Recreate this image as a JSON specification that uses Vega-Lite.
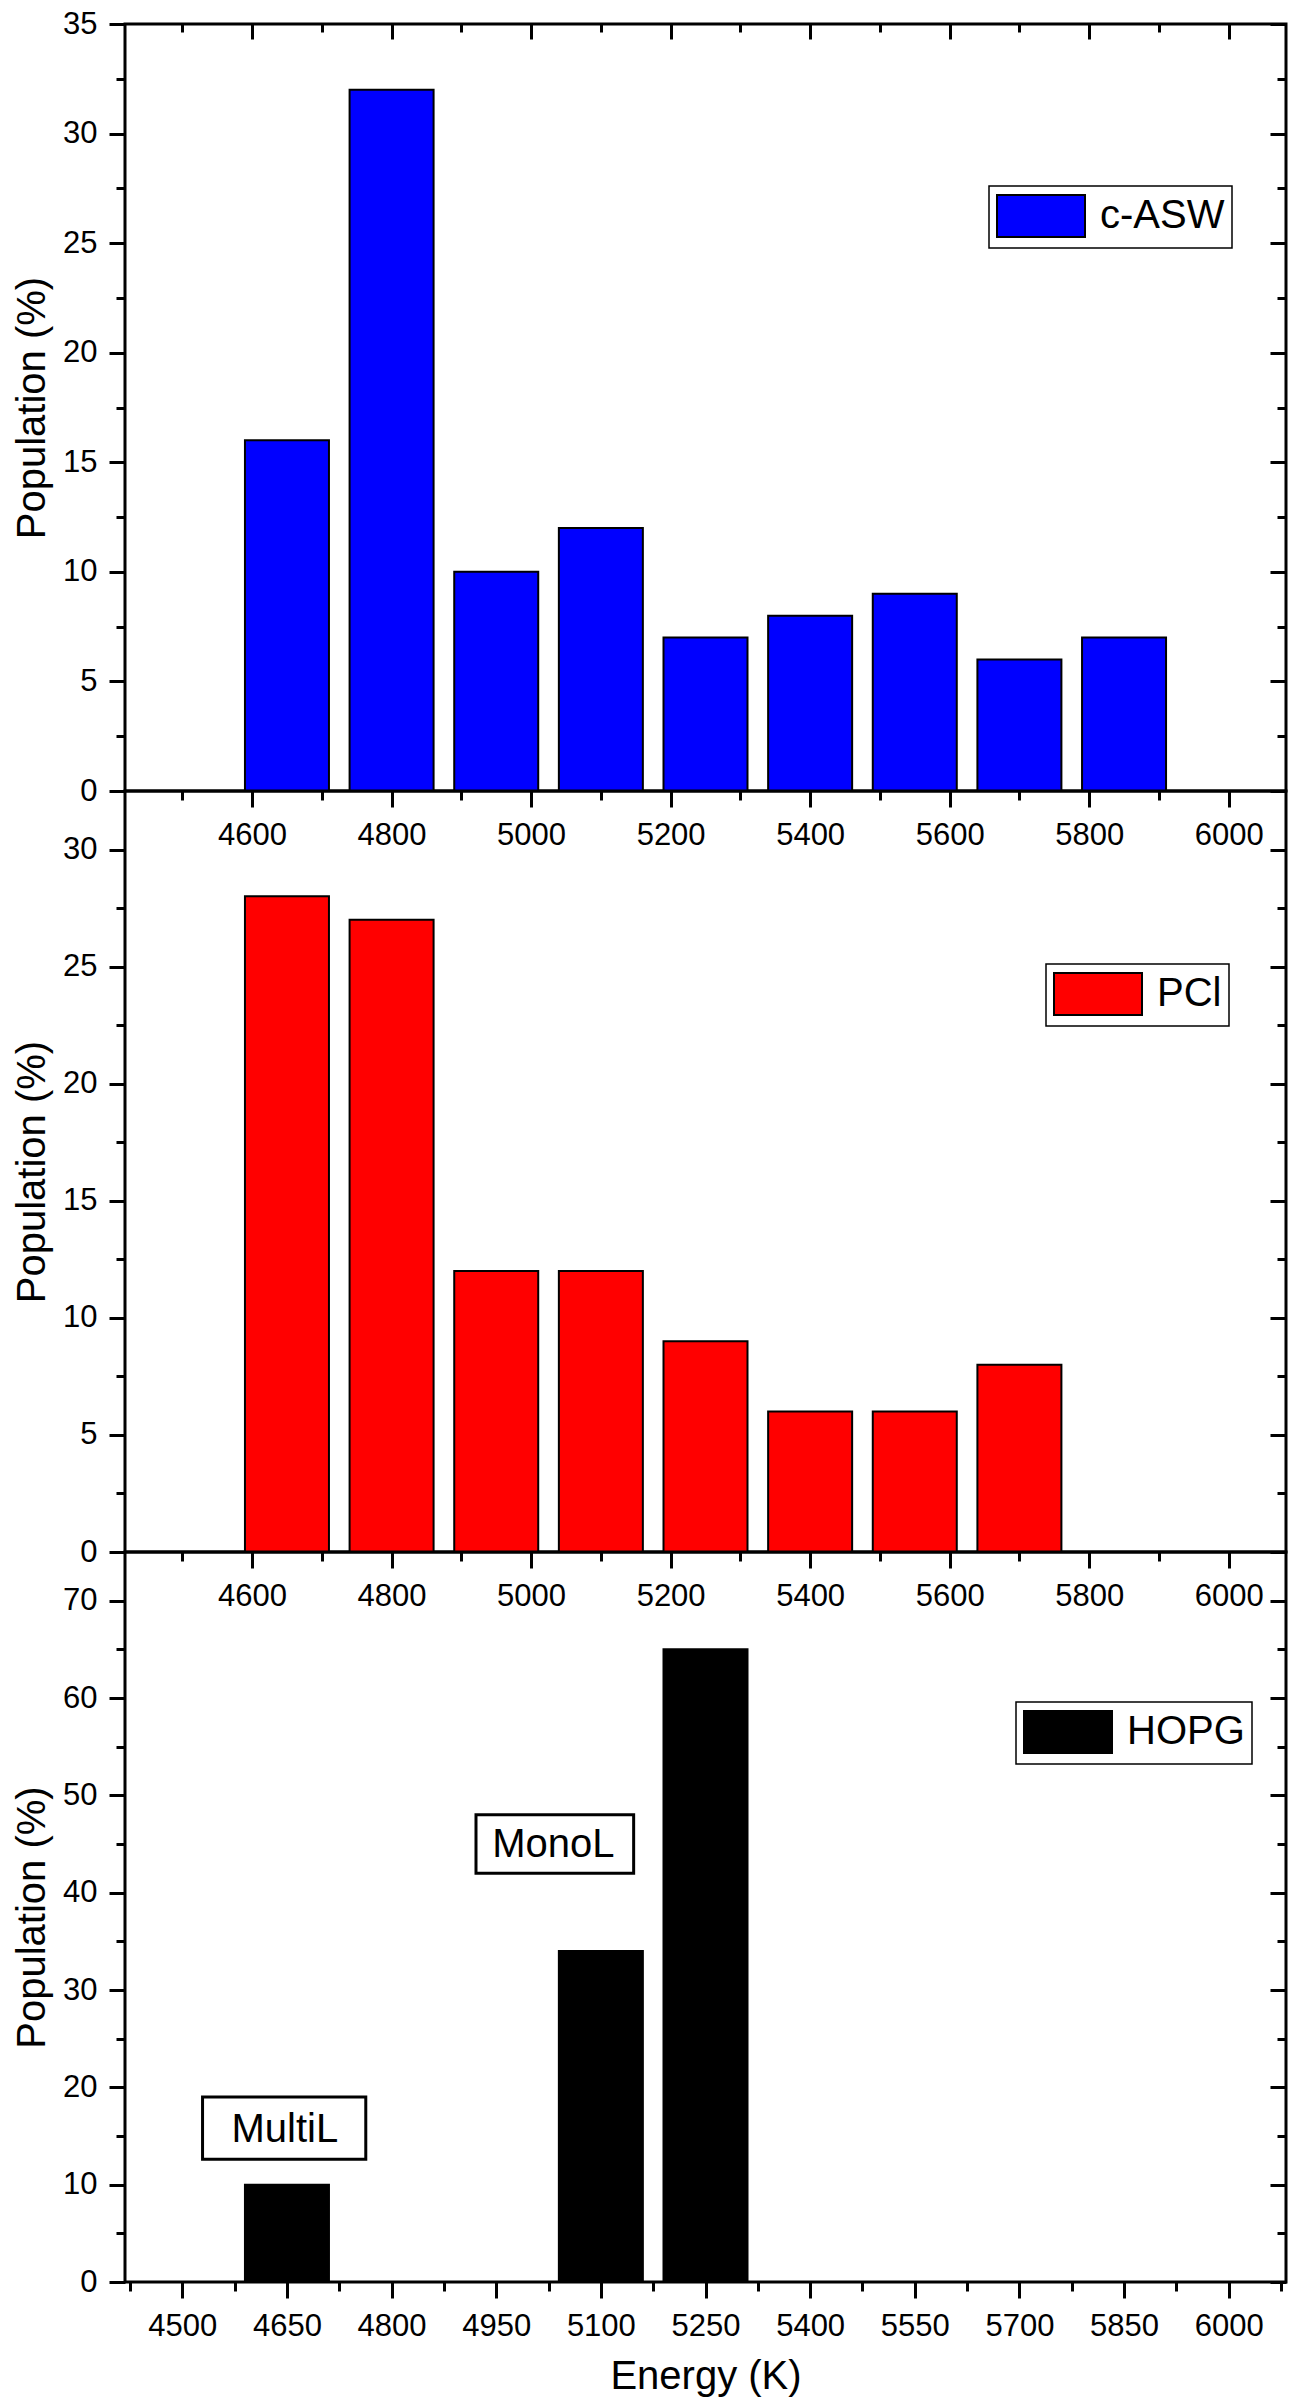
{
  "$schema": "https://vega.github.io/schema/vega-lite/v6.json",
  "background": "white",
  "padding": {"left": 11, "top": 6, "right": 5, "bottom": 0},
  "spacing": 0,
  "bounds": "flush",
  "config": {
    "view": {"stroke": "black", "strokeWidth": 3},
    "axis": {
      "labelFont": "Liberation Sans",
      "labelFontSize": 31,
      "labelColor": "black",
      "titleFont": "Liberation Sans",
      "titleFontSize": 40,
      "titleFontWeight": "normal",
      "titleColor": "black",
      "tickColor": "black",
      "tickWidth": 3,
      "domain": false,
      "grid": false,
      "labelOverlap": false,
      "labelFlush": false,
      "format": "d"
    },
    "legend": {
      "labelFont": "Liberation Sans",
      "labelFontSize": 40,
      "labelColor": "black",
      "labelLimit": 0,
      "strokeColor": "black",
      "strokeWidth": 1.5,
      "fillColor": "white",
      "padding": 7
    }
  },
  "resolve": {
    "scale": {"x": "independent", "y": "independent", "color": "independent"},
    "legend": {"color": "independent"}
  },
  "vconcat": [
    {
      "width": 1161,
      "height": 767,
      "data": {"values": [
        {"energy": 4650, "population": 16, "sample": "c-ASW"},
        {"energy": 4800, "population": 32, "sample": "c-ASW"},
        {"energy": 4950, "population": 10, "sample": "c-ASW"},
        {"energy": 5100, "population": 12, "sample": "c-ASW"},
        {"energy": 5250, "population": 7, "sample": "c-ASW"},
        {"energy": 5400, "population": 8, "sample": "c-ASW"},
        {"energy": 5550, "population": 9, "sample": "c-ASW"},
        {"energy": 5700, "population": 6, "sample": "c-ASW"},
        {"energy": 5850, "population": 7, "sample": "c-ASW"}
      ]},
      "layer": [
        {
          "mark": {"type": "bar", "size": 84, "stroke": "black", "strokeWidth": 2, "opacity": 1},
          "encoding": {
            "x": {"field": "energy", "type": "quantitative",
              "scale": {"domain": [4425, 6075], "nice": false, "zero": false},
              "axis": {"orient": "bottom", "title": null,
                "values": [4500,4600,4700,4800,4900,5000,5100,5200,5300,5400,5500,5600,5700,5800,5900,6000],
                "labelExpr": "datum.value % 200 === 0 ? datum.label : ''",
                "tickSize": {"condition": {"test": "datum.value % 200 === 0", "value": 16}, "value": 9},
                "labelPadding": 13}},
            "y": {"field": "population", "type": "quantitative",
              "scale": {"domain": [0, 35], "nice": false},
              "axis": {"orient": "left", "title": "Population (%)", "titlePadding": 10,
                "values": [0,2.5,5,7.5,10,12.5,15,17.5,20,22.5,25,27.5,30,32.5,35],
                "labelExpr": "datum.value % 5 === 0 ? datum.label : ''",
                "tickSize": {"condition": {"test": "datum.value % 5 === 0", "value": 16}, "value": 9},
                "labelPadding": 12}},
            "color": {"field": "sample", "type": "nominal",
              "scale": {"domain": ["c-ASW"], "range": ["#0000ff"]},
              "legend": {"orient": "none", "legendX": 864, "legendY": 162, "title": null,
                "symbolType": "M-1,-0.95H3V0.95H-1Z", "symbolSize": 1936,
                "symbolStrokeColor": "black", "symbolStrokeWidth": 2, "symbolOpacity": 1,
                "labelOffset": 58}}
          }
        },
        {
          "mark": {"type": "bar", "size": 84, "opacity": 0},
          "encoding": {
            "x": {"field": "energy", "type": "quantitative",
              "scale": {"domain": [4425, 6075], "nice": false, "zero": false},
              "axis": {"orient": "top", "title": null, "labels": false,
                "values": [4500,4600,4700,4800,4900,5000,5100,5200,5300,5400,5500,5600,5700,5800,5900,6000],
                "tickSize": {"condition": {"test": "datum.value % 200 === 0", "value": -15}, "value": -8}}},
            "y": {"field": "population", "type": "quantitative",
              "scale": {"domain": [0, 35], "nice": false},
              "axis": {"orient": "right", "title": null, "labels": false,
                "values": [0,2.5,5,7.5,10,12.5,15,17.5,20,22.5,25,27.5,30,32.5,35],
                "tickSize": {"condition": {"test": "datum.value % 5 === 0", "value": -16}, "value": -9}}}
          }
        }
      ],
      "resolve": {"axis": {"x": "independent", "y": "independent"}}
    },
    {
      "width": 1161,
      "height": 761,
      "data": {"values": [
        {"energy": 4650, "population": 28, "sample": "PCl"},
        {"energy": 4800, "population": 27, "sample": "PCl"},
        {"energy": 4950, "population": 12, "sample": "PCl"},
        {"energy": 5100, "population": 12, "sample": "PCl"},
        {"energy": 5250, "population": 9, "sample": "PCl"},
        {"energy": 5400, "population": 6, "sample": "PCl"},
        {"energy": 5550, "population": 6, "sample": "PCl"},
        {"energy": 5700, "population": 8, "sample": "PCl"}
      ]},
      "layer": [
        {
          "mark": {"type": "bar", "size": 84, "stroke": "black", "strokeWidth": 2, "opacity": 1},
          "encoding": {
            "x": {"field": "energy", "type": "quantitative",
              "scale": {"domain": [4425, 6075], "nice": false, "zero": false},
              "axis": {"orient": "bottom", "title": null,
                "values": [4500,4600,4700,4800,4900,5000,5100,5200,5300,5400,5500,5600,5700,5800,5900,6000],
                "labelExpr": "datum.value % 200 === 0 ? datum.label : ''",
                "tickSize": {"condition": {"test": "datum.value % 200 === 0", "value": 16}, "value": 9},
                "labelPadding": 13}},
            "y": {"field": "population", "type": "quantitative",
              "scale": {"domain": [0, 32.5], "nice": false},
              "axis": {"orient": "left", "title": "Population (%)", "titlePadding": 10,
                "values": [0,2.5,5,7.5,10,12.5,15,17.5,20,22.5,25,27.5,30,32.5],
                "labelExpr": "datum.value % 5 === 0 ? datum.label : ''",
                "tickSize": {"condition": {"test": "datum.value % 5 === 0", "value": 16}, "value": 9},
                "labelPadding": 12}},
            "color": {"field": "sample", "type": "nominal",
              "scale": {"domain": ["PCl"], "range": ["#ff0000"]},
              "legend": {"orient": "none", "legendX": 921, "legendY": 173, "title": null,
                "symbolType": "M-1,-0.95H3V0.95H-1Z", "symbolSize": 1936,
                "symbolStrokeColor": "black", "symbolStrokeWidth": 2, "symbolOpacity": 1,
                "labelOffset": 58}}
          }
        },
        {
          "mark": {"type": "bar", "size": 84, "opacity": 0},
          "encoding": {
            "x": {"field": "energy", "type": "quantitative",
              "scale": {"domain": [4425, 6075], "nice": false, "zero": false},
              "axis": null},
            "y": {"field": "population", "type": "quantitative",
              "scale": {"domain": [0, 32.5], "nice": false},
              "axis": {"orient": "right", "title": null, "labels": false,
                "values": [0,2.5,5,7.5,10,12.5,15,17.5,20,22.5,25,27.5,30,32.5],
                "tickSize": {"condition": {"test": "datum.value % 5 === 0", "value": -16}, "value": -9}}}
          }
        }
      ],
      "resolve": {"axis": {"x": "independent", "y": "independent"}}
    },
    {
      "width": 1161,
      "height": 730,
      "data": {"values": [
        {"energy": 4650, "population": 10, "sample": "HOPG"},
        {"energy": 5100, "population": 34, "sample": "HOPG"},
        {"energy": 5250, "population": 65, "sample": "HOPG"}
      ]},
      "layer": [
        {
          "mark": {"type": "bar", "size": 84, "stroke": "black", "strokeWidth": 2, "opacity": 1},
          "encoding": {
            "x": {"field": "energy", "type": "quantitative",
              "scale": {"domain": [4425, 6075], "nice": false, "zero": false},
              "axis": {"orient": "bottom", "title": "Energy (K)", "titlePadding": 15,
                "values": [4425,4500,4575,4650,4725,4800,4875,4950,5025,5100,5175,5250,5325,5400,5475,5550,5625,5700,5775,5850,5925,6000,6075],
                "labelExpr": "(datum.value - 4500) % 150 === 0 ? datum.label : ''",
                "tickSize": {"condition": {"test": "(datum.value - 4500) % 150 === 0", "value": 16}, "value": 9},
                "labelPadding": 13}},
            "y": {"field": "population", "type": "quantitative",
              "scale": {"domain": [0, 75], "nice": false},
              "axis": {"orient": "left", "title": "Population (%)", "titlePadding": 10,
                "values": [0,5,10,15,20,25,30,35,40,45,50,55,60,65,70,75],
                "labelExpr": "datum.value % 10 === 0 ? datum.label : ''",
                "tickSize": {"condition": {"test": "datum.value % 10 === 0", "value": 16}, "value": 9},
                "labelPadding": 12}},
            "color": {"field": "sample", "type": "nominal",
              "scale": {"domain": ["HOPG"], "range": ["#000000"]},
              "legend": {"orient": "none", "legendX": 891, "legendY": 150, "title": null,
                "symbolType": "M-1,-0.95H3V0.95H-1Z", "symbolSize": 1936,
                "symbolStrokeColor": "black", "symbolStrokeWidth": 2, "symbolOpacity": 1,
                "labelOffset": 58}}
          }
        },
        {
          "mark": {"type": "bar", "size": 84, "opacity": 0},
          "encoding": {
            "x": {"field": "energy", "type": "quantitative",
              "scale": {"domain": [4425, 6075], "nice": false, "zero": false},
              "axis": null},
            "y": {"field": "population", "type": "quantitative",
              "scale": {"domain": [0, 75], "nice": false},
              "axis": {"orient": "right", "title": null, "labels": false,
                "values": [0,5,10,15,20,25,30,35,40,45,50,55,60,65,70,75],
                "tickSize": {"condition": {"test": "datum.value % 10 === 0", "value": -16}, "value": -9}}}
          }
        },
        {
          "data": {"values": [
            {"label": "MonoL", "left": 4921, "right": 5147, "low": 42.0, "high": 48.0, "cx": 5032, "base": 43.7},
            {"label": "MultiL", "left": 4529, "right": 4763, "low": 12.6, "high": 19.0, "cx": 4647, "base": 14.4}
          ]},
          "layer": [
            {
              "mark": {"type": "rect", "fill": "white", "stroke": "black", "strokeWidth": 3},
              "encoding": {
                "x": {"field": "left", "type": "quantitative", "scale": {"domain": [4425, 6075], "nice": false, "zero": false}, "axis": null},
                "x2": {"field": "right"},
                "y": {"field": "low", "type": "quantitative", "scale": {"domain": [0, 75], "nice": false}, "axis": null},
                "y2": {"field": "high"}
              }
            },
            {
              "mark": {"type": "text", "font": "Liberation Sans", "fontSize": 40, "color": "black", "baseline": "alphabetic", "align": "center"},
              "encoding": {
                "x": {"field": "cx", "type": "quantitative", "scale": {"domain": [4425, 6075], "nice": false, "zero": false}, "axis": null},
                "y": {"field": "base", "type": "quantitative", "scale": {"domain": [0, 75], "nice": false}, "axis": null},
                "text": {"field": "label"}
              }
            }
          ]
        }
      ],
      "resolve": {"axis": {"x": "independent", "y": "independent"}}
    }
  ]
}
